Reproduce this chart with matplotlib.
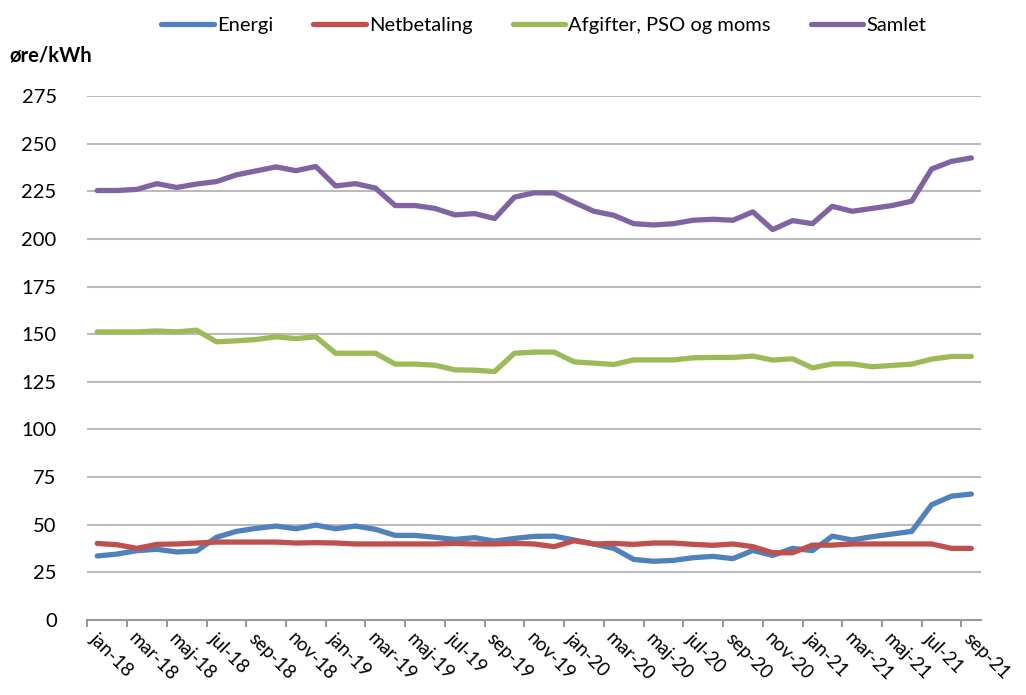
import matplotlib
matplotlib.use("Agg")
import matplotlib.pyplot as plt

plt.rcParams['font.family'] = ['Lato', 'DejaVu Sans']

months = ['jan', 'feb', 'mar', 'apr', 'maj', 'jun', 'jul', 'aug', 'sep', 'okt', 'nov', 'dec']
labels = [m + '-' + str(y) for y in (18, 19, 20, 21) for m in months][:45]

energi = [33.6, 34.6, 36.4, 37.1, 35.7, 36.2, 43.4, 46.5, 48.1, 49.3, 47.9, 49.8,
          47.9, 49.3, 47.6, 44.4, 44.4, 43.4, 42.3, 43.2, 41.4, 42.8, 43.9, 44.0,
          42.0, 39.9, 37.6, 31.8, 30.8, 31.3, 32.7, 33.4, 32.2, 36.5, 33.9, 37.6,
          36.4, 44.0, 42.0, 43.7, 45.1, 46.5, 60.5, 65.0, 66.1]
netbetaling = [40.2, 39.5, 37.6, 39.7, 39.9, 40.4, 40.9, 40.9, 40.9, 40.9, 40.4, 40.6,
               40.4, 39.9, 39.9, 39.9, 39.9, 39.9, 40.2, 39.9, 39.9, 40.2, 39.9, 38.5,
               41.6, 39.9, 40.2, 39.7, 40.4, 40.4, 39.7, 39.2, 39.9, 38.5, 35.3, 35.3,
               39.3, 39.3, 39.9, 39.9, 39.9, 39.9, 39.9, 37.6, 37.6]
afgifter = [151.2, 151.2, 151.2, 151.7, 151.2, 152.1, 146.0, 146.5, 147.2, 148.6, 147.7, 148.6,
            140.0, 140.0, 140.0, 134.3, 134.3, 133.7, 131.3, 131.1, 130.4, 140.0, 140.6, 140.6,
            135.5, 134.8, 134.1, 136.5, 136.5, 136.5, 137.6, 137.8, 137.8, 138.5, 136.4, 137.1,
            132.3, 134.4, 134.4, 132.9, 133.6, 134.3, 136.9, 138.3, 138.3]
samlet = [225.4, 225.4, 226.0, 229.0, 227.0, 228.8, 230.1, 233.6, 235.7, 237.8, 235.8, 238.0,
          227.8, 229.0, 226.7, 217.5, 217.5, 216.0, 212.6, 213.3, 210.7, 221.9, 224.2, 224.1,
          219.2, 214.5, 212.4, 208.0, 207.3, 208.0, 209.8, 210.3, 209.8, 214.2, 204.9, 209.6,
          208.0, 217.1, 214.5, 216.0, 217.5, 219.8, 236.7, 240.7, 242.5]

series = [('Energi', energi, '#4F81BD'),
          ('Netbetaling', netbetaling, '#C0504D'),
          ('Afgifter, PSO og moms', afgifter, '#9BBB59'),
          ('Samlet', samlet, '#8064A2')]

fig = plt.figure(figsize=(10.26, 6.95), dpi=100)
ax = fig.add_axes([87.3 / 1026, 1 - 620 / 695, (981.3 - 87.3) / 1026, (620 - 96) / 695])

x = list(range(len(labels)))
for name, vals, col in series:
    ax.plot(x, vals, color=col, lw=3.8, label=name, solid_capstyle='round',
            solid_joinstyle='round')

ax.set_ylim(0, 275)
ax.set_xlim(-0.5, len(labels) - 0.5)
ax.set_yticks(range(0, 276, 25))
ax.yaxis.grid(True, color='#BBBBBB', lw=1.5)
ax.set_axisbelow(True)
ax.tick_params(axis='y', length=0, labelsize=14.5, pad=22)

ax.set_xticks([i - 0.5 for i in range(0, len(labels), 2)])
ax.set_xticklabels([])
ax.tick_params(axis='x', direction='out', length=5, width=1.5, color='#999999')
for i in range(0, len(labels), 2):
    ax.text(i + 0.05, -5, labels[i], rotation=-45, rotation_mode='anchor',
            ha='left', va='top', fontsize=13.5)

for s in ['top', 'right', 'left']:
    ax.spines[s].set_visible(False)
ax.spines['bottom'].set_color('#999999')
ax.spines['bottom'].set_linewidth(1.5)

fig.text(10 / 1026, 1 - 55 / 695, 'øre/kWh', fontsize=14.5, fontweight='bold', va='center')

fig.legend(loc='center', bbox_to_anchor=(0.53, 0.964), ncol=4, frameon=False,
           fontsize=14.5, handlelength=2.6, handletextpad=0.15, columnspacing=2.0)

fig.savefig('out.png', dpi=100)
